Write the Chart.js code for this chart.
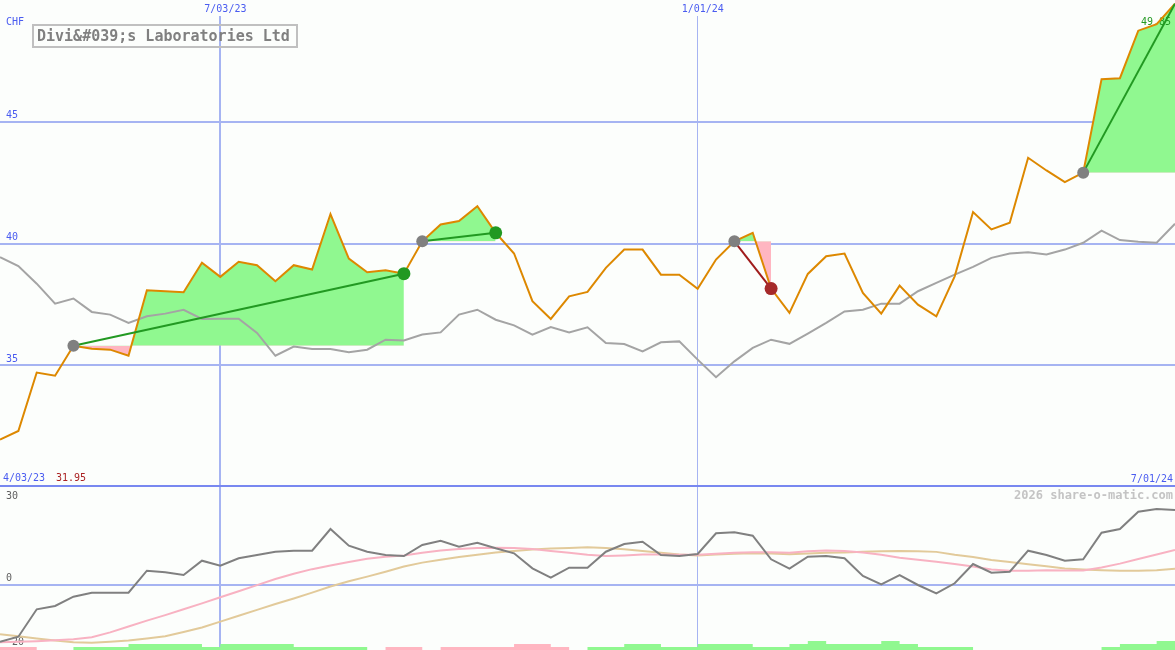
<!DOCTYPE html>
<html>
<head>
<meta charset="utf-8">
<script src="https://cdn.jsdelivr.net/npm/chart.js@4.4.1/dist/chart.umd.min.js"></script>
<style>
    body { margin: 0; background: #fcfefc; }
    #wrap { position: relative; width: 1175px; height: 650px; }
    canvas { display: block; }
    #title {
        position: absolute; left: 32px; top: 24px;
        width: 266px; height: 24px; box-sizing: border-box;
        border: 2px solid #c0c0c0;
        font: bold 15px "DejaVu Sans Mono", monospace;
        color: #808080; line-height: 20px; padding-left: 3px;
        white-space: nowrap;
    }
</style>
</head>
<body>
<div id="wrap">
    <canvas id="priceChart" width="1175" height="487"></canvas>
    <canvas id="oscChart" width="1175" height="163"></canvas>
    <div id="title">Divi&amp;#039;s Laboratories Ltd</div>
</div>
<script>
// weekly closes (CHF)
const price = [
    31.95, 32.30, 34.70, 34.57, 35.80, 35.68, 35.64, 35.39, 38.08, 38.04,
    38.00, 39.21, 38.63, 39.25, 39.11, 38.45, 39.11, 38.93, 41.21, 39.38,
    38.82, 38.90, 38.76, 40.09, 40.78, 40.92, 41.53, 40.44, 39.59, 37.63,
    36.90, 37.83, 38.01, 39.00, 39.75, 39.75, 38.72, 38.72, 38.14, 39.34,
    40.09, 40.44, 38.15, 37.15, 38.75, 39.48, 39.59, 37.97, 37.12, 38.27,
    37.49, 37.01, 38.65, 41.29, 40.58, 40.85, 43.52, 43.00, 42.52, 42.91,
    46.75, 46.79, 48.74, 49.01, 49.85
];
// moving average (grey)
const avg = [
    39.44, 39.07, 38.35, 37.53, 37.74, 37.19, 37.08, 36.74, 37.01, 37.12,
    37.28, 36.90, 36.91, 36.91, 36.33, 35.39, 35.77, 35.67, 35.67, 35.53,
    35.64, 36.05, 36.02, 36.26, 36.35, 37.08, 37.28, 36.87, 36.64, 36.26,
    36.57, 36.35, 36.56, 35.91, 35.87, 35.57, 35.94, 35.98, 35.23, 34.51,
    35.16, 35.71, 36.05, 35.88, 36.30, 36.74, 37.21, 37.28, 37.53, 37.53,
    38.04, 38.38, 38.72, 39.04, 39.41, 39.59, 39.64, 39.55, 39.75, 40.03,
    40.53, 40.14, 40.07, 40.03, 40.81
];
// lower panel
const osc = [
    -17.45, -15.92, -7.52, -6.50, -3.65, -2.42, -2.42, -2.42, 4.33, 3.83,
    3.00, 7.39, 5.86, 8.13, 9.14, 10.15, 10.46, 10.46, 17.12, 12.00,
    10.15, 9.14, 8.83, 12.21, 13.53, 11.69, 12.91, 11.20, 9.66, 5.06,
    2.18, 5.25, 5.25, 10.15, 12.52, 13.22, 9.14, 8.83, 9.45, 15.80,
    16.10, 15.06, 7.82, 4.94, 8.62, 8.83, 8.13, 2.70, 0.15, 3.00,
    -0.06, -2.61, 0.46, 6.38, 3.71, 4.02, 10.46, 9.14, 7.39, 7.82,
    15.98, 17.12, 22.42, 23.25, 22.94
];
const oscPink = [
    -17.6, -17.5, -17.3, -17.0, -16.7, -16.1, -14.6, -12.8, -11.0, -9.3,
    -7.5, -5.7, -3.8, -2.0, -0.1, 1.8, 3.4, 4.8, 5.9, 7.0,
    8.0, 8.6, 9.0, 9.8, 10.5, 11.0, 11.3, 11.4, 11.3, 11.0,
    10.4, 9.8, 9.2, 8.8, 9.0, 9.3, 9.3, 9.2, 9.2, 9.5,
    9.8, 10.0, 10.0, 9.8, 10.3, 10.5, 10.4, 9.9, 9.2, 8.3,
    7.7, 7.1, 6.4, 5.6, 4.7, 4.3, 4.3, 4.5, 4.4, 4.4,
    5.3, 6.5, 7.9, 9.3, 10.7
];
const oscTan = [
    -15.2, -15.8, -16.5, -17.1, -17.6, -17.8, -17.5, -17.1, -16.5, -15.8,
    -14.5, -13.1, -11.3, -9.5, -7.7, -5.9, -4.2, -2.4, -0.5, 1.1,
    2.5, 4.0, 5.6, 6.8, 7.7, 8.5, 9.2, 9.9, 10.4, 10.8,
    11.1, 11.3, 11.5, 11.3, 10.9, 10.4, 9.8, 9.3, 9.0, 9.3,
    9.5, 9.7, 9.6, 9.4, 9.6, 9.8, 9.9, 10.1, 10.3, 10.4,
    10.3, 10.1, 9.2, 8.5, 7.6, 7.0, 6.3, 5.7, 5.0, 4.7,
    4.5, 4.3, 4.3, 4.5, 4.9
];
// signal strip at the bottom (level held until the next week)
const signalUp = [
    0, 0, 0, 0, 1, 1, 1, 2, 2, 2,
    2, 1, 2, 2, 2, 2, 1, 1, 1, 1,
    0, 0, 0, 0, 0, 0, 0, 0, 0, 0,
    0, 0, 1, 1, 2, 2, 1, 1, 2, 2,
    2, 1, 1, 2, 3, 2, 2, 2, 3, 2,
    1, 1, 1, 0, 0, 0, 0, 0, 0, 0,
    1, 2, 2, 3, 3
];
const signalDown = [
    1, 1, 0, 0, 0, 0, 0, 0, 0, 0,
    0, 0, 0, 0, 0, 0, 0, 0, 0, 0,
    0, 1, 1, 0, 1, 1, 1, 1, 2, 2,
    1, 0, 0, 0, 0, 0, 0, 0, 0, 0,
    0, 0, 0, 0, 0, 0, 0, 0, 0, 0,
    0, 0, 0, 0, 0, 0, 0, 0, 0, 0,
    0, 0, 0, 0, 0
];
// trades: entry / exit week index
const trades = [
    { entry: 4, exit: 22, open: false },
    { entry: 23, exit: 27, open: false },
    { entry: 40, exit: 42, open: false },
    { entry: 59, exit: 64, open: true }
];
const weeks = price.map((_, i) => String(i));
const dateMarks = [{ i: 12, text: '7/03/23' }, { i: 38, text: '1/01/24' }];
const startDate = '4/03/23';
const endDate = '7/01/24';

const BLUE = '#4a5cf0';
const GRID = '#a6b4f2';
const DIVIDER = '#7888f0';
const WIN = '#229922';
const LOSS = '#a01c1c';
const FILL_UP = '#90f890';
const FILL_DOWN = '#ffb6c1';
const FONT = '"DejaVu Sans Mono", monospace';

Chart.defaults.font.family = FONT;

function xAxis() {
    return {
        type: 'category',
        offset: false,
        grid: {
            drawTicks: false,
            color: c => dateMarks.some(m => m.i === c.index) ? GRID : 'rgba(0,0,0,0)',
            lineWidth: c => c.index === 12 ? 2 : 1
        },
        border: { display: false },
        ticks: { display: false, autoSkip: false },
        afterFit: s => { s.height = 0; }
    };
}

function buildTradeDatasets() {
    const sets = [];
    trades.forEach(t => {
        const base = price[t.entry];
        const won = price[t.exit] >= base;
        sets.push({
            data: price.map((v, i) => (i >= t.entry && i <= t.exit) ? v : null),
            borderWidth: 0,
            pointRadius: 0,
            spanGaps: false,
            fill: { target: { value: base }, above: FILL_UP, below: FILL_DOWN },
            order: 5
        });
        sets.push({
            data: price.map((v, i) => (i === t.entry || i === t.exit) ? v : null),
            borderColor: won ? WIN : LOSS,
            borderWidth: 2,
            spanGaps: true,
            fill: false,
            pointRadius: c => c.dataIndex === t.entry ? 6 : (c.dataIndex === t.exit && !t.open ? 6.5 : 0),
            pointBackgroundColor: c => c.dataIndex === t.entry ? '#808080' : (won ? WIN : '#a52a2a'),
            pointBorderWidth: 0,
            order: 1
        });
    });
    return sets;
}

const priceDatasets = [
    ...buildTradeDatasets(),
    { data: avg, borderColor: '#a4a4a4', borderWidth: 2, pointRadius: 0, fill: false, order: 4 },
    { data: price, borderColor: '#dd8800', borderWidth: 2, pointRadius: 0, fill: false, order: 3 }
];
const avgIndex = priceDatasets.length - 2;

const priceLabels = {
    id: 'priceLabels',
    beforeDatasetsDraw(chart) {
        const { ctx, scales: { x } } = chart;
        ctx.save();
        ctx.fillStyle = DIVIDER;
        ctx.fillRect(0, 485, chart.width, 2);
        ctx.font = '10px ' + FONT;
        ctx.textBaseline = 'middle';
        ctx.textAlign = 'left';
        dateMarks.forEach(m => {
            const px = x.getPixelForValue(m.i);
            ctx.clearRect(px - 3, 0, 6, 16);
            ctx.fillStyle = BLUE;
            ctx.fillText(m.text, px - 16, 9);
        });
        ctx.fillStyle = BLUE;
        ctx.fillText('CHF', 6, 22);
        ctx.fillText(startDate, 3, 478);
        ctx.fillStyle = '#aa2222';
        ctx.fillText(price[0].toFixed(2), 56, 478);
        ctx.fillStyle = BLUE;
        ctx.textAlign = 'right';
        ctx.fillText(endDate, 1173, 479);
        ctx.restore();
    },
    // last close goes above the trade fills but under the lines
    beforeDatasetDraw(chart, args) {
        if (args.index !== avgIndex) return;
        const { ctx } = chart;
        ctx.save();
        ctx.font = '10px ' + FONT;
        ctx.textBaseline = 'middle';
        ctx.textAlign = 'left';
        ctx.fillStyle = WIN;
        ctx.fillText(price[price.length - 1].toFixed(2), 1141, 22);
        ctx.restore();
    }
};

const oscLabels = {
    id: 'oscLabels',
    beforeDatasetsDraw(chart) {
        const { ctx } = chart;
        ctx.save();
        ctx.font = '10px ' + FONT;
        ctx.textBaseline = 'middle';
        ctx.textAlign = 'left';
        ctx.fillStyle = '#606060';
        ctx.fillText('30', 6, 9);
        ctx.fillText('0', 6, 91);
        ctx.fillText('-20', 6, 155);
        ctx.font = 'bold 12px ' + FONT;
        ctx.textAlign = 'right';
        ctx.fillStyle = '#c4c4c4';
        ctx.fillText('2026 share-o-matic.com', 1173, 9);
        ctx.restore();
    }
};

new Chart(document.getElementById('priceChart'), {
    type: 'line',
    data: {
        labels: weeks,
        datasets: priceDatasets
    },
    options: {
        responsive: false,
        devicePixelRatio: 1,
        animation: false,
        events: [],
        layout: { autoPadding: false, padding: 0 },
        elements: { line: { tension: 0 } },
        plugins: { legend: { display: false }, tooltip: { enabled: false } },
        scales: {
            x: xAxis(),
            y: {
                min: 30,
                max: 50,
                afterBuildTicks: s => { s.ticks = [35, 40, 45].map(v => ({ value: v })); },
                grid: { color: GRID, lineWidth: 2, drawTicks: false },
                border: { display: false },
                ticks: { mirror: true, padding: 6, labelOffset: -6, color: BLUE, font: { size: 10 } },
                afterFit: s => {
                    // labels sit inside the plot, so no room is kept for them
                    s.width = 0;
                    s.paddingTop = 0;
                    s.paddingBottom = 0;
                }
            }
        }
    },
    plugins: [priceLabels]
});

new Chart(document.getElementById('oscChart'), {
    type: 'line',
    data: {
        labels: weeks,
        datasets: [
            { data: signalUp, yAxisID: 'yb', stepped: 'before', borderWidth: 0, pointRadius: 0,
              backgroundColor: FILL_UP, fill: 'origin', order: 6 },
            { data: signalDown, yAxisID: 'yb', stepped: 'before', borderWidth: 0, pointRadius: 0,
              backgroundColor: FILL_DOWN, fill: 'origin', order: 6 },
            { data: oscTan, borderColor: '#e2ca9a', borderWidth: 2, pointRadius: 0, fill: false, order: 3 },
            { data: oscPink, borderColor: '#f8b2c2', borderWidth: 2, pointRadius: 0, fill: false, order: 2 },
            { data: osc, borderColor: '#808080', borderWidth: 2, pointRadius: 0, fill: false, order: 1 }
        ]
    },
    options: {
        responsive: false,
        devicePixelRatio: 1,
        animation: false,
        events: [],
        layout: { autoPadding: false, padding: 0 },
        elements: { line: { tension: 0 } },
        plugins: { legend: { display: false }, tooltip: { enabled: false } },
        scales: {
            x: xAxis(),
            y: {
                min: -20,
                max: 30,
                afterBuildTicks: s => { s.ticks = [{ value: 0 }]; },
                grid: { color: GRID, lineWidth: 2, drawTicks: false },
                border: { display: false },
                ticks: { display: false },
                afterFit: s => { s.width = 0; }
            },
            yb: {
                display: false,
                min: 0,
                max: 163 / 3
            }
        }
    },
    plugins: [oscLabels]
});
</script>
</body>
</html>
